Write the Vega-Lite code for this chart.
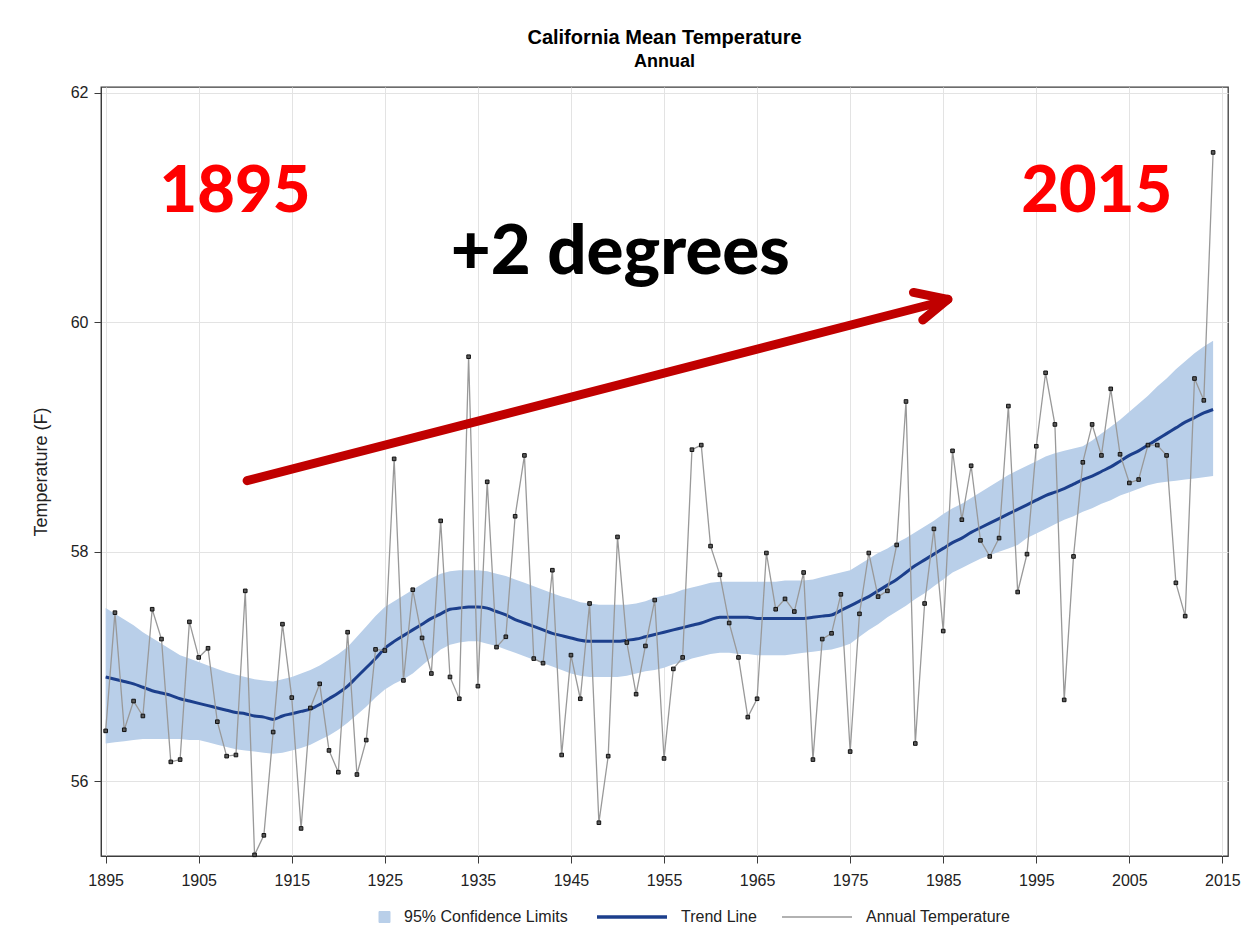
{
  "$schema": "https://vega.github.io/schema/vega-lite/v6.json",
  "autosize": {"type": "none"},
  "width": 1127,
  "height": 769,
  "padding": {"left": 101, "top": 87, "right": 15, "bottom": 87},
  "background": "white",
  "title": {
    "text": "California Mean Temperature",
    "subtitle": "Annual",
    "anchor": "middle",
    "font": "Liberation Sans",
    "subtitleFont": "Liberation Sans",
    "fontSize": 20,
    "subtitleFontSize": 18,
    "fontWeight": "bold",
    "subtitleFontWeight": "bold",
    "color": "#000000",
    "subtitleColor": "#000000",
    "offset": 14,
    "subtitlePadding": 5
  },
  "datasets": {
    "temps": [
      {"year":1895,"t":56.44,"tr":56.91,"lo":56.33,"hi":57.51},
      {"year":1896,"t":57.47,"tr":56.89,"lo":56.34,"hi":57.46},
      {"year":1897,"t":56.45,"tr":56.87,"lo":56.35,"hi":57.41},
      {"year":1898,"t":56.70,"tr":56.85,"lo":56.36,"hi":57.36},
      {"year":1899,"t":56.57,"tr":56.82,"lo":56.37,"hi":57.30},
      {"year":1900,"t":57.50,"tr":56.79,"lo":56.37,"hi":57.25},
      {"year":1901,"t":57.24,"tr":56.77,"lo":56.37,"hi":57.20},
      {"year":1902,"t":56.17,"tr":56.75,"lo":56.37,"hi":57.15},
      {"year":1903,"t":56.19,"tr":56.72,"lo":56.37,"hi":57.10},
      {"year":1904,"t":57.39,"tr":56.70,"lo":56.36,"hi":57.07},
      {"year":1905,"t":57.08,"tr":56.68,"lo":56.36,"hi":57.04},
      {"year":1906,"t":57.16,"tr":56.66,"lo":56.34,"hi":57.01},
      {"year":1907,"t":56.52,"tr":56.64,"lo":56.32,"hi":56.98},
      {"year":1908,"t":56.22,"tr":56.62,"lo":56.30,"hi":56.95},
      {"year":1909,"t":56.23,"tr":56.60,"lo":56.28,"hi":56.93},
      {"year":1910,"t":57.66,"tr":56.59,"lo":56.27,"hi":56.91},
      {"year":1911,"t":55.36,"tr":56.57,"lo":56.26,"hi":56.89},
      {"year":1912,"t":55.53,"tr":56.56,"lo":56.25,"hi":56.88},
      {"year":1913,"t":56.43,"tr":56.54,"lo":56.24,"hi":56.87},
      {"year":1914,"t":57.37,"tr":56.57,"lo":56.25,"hi":56.89},
      {"year":1915,"t":56.73,"tr":56.59,"lo":56.27,"hi":56.91},
      {"year":1916,"t":55.59,"tr":56.61,"lo":56.29,"hi":56.94},
      {"year":1917,"t":56.64,"tr":56.63,"lo":56.32,"hi":56.97},
      {"year":1918,"t":56.85,"tr":56.67,"lo":56.36,"hi":57.01},
      {"year":1919,"t":56.27,"tr":56.72,"lo":56.40,"hi":57.06},
      {"year":1920,"t":56.08,"tr":56.77,"lo":56.45,"hi":57.11},
      {"year":1921,"t":57.30,"tr":56.83,"lo":56.51,"hi":57.17},
      {"year":1922,"t":56.06,"tr":56.91,"lo":56.58,"hi":57.26},
      {"year":1923,"t":56.36,"tr":56.99,"lo":56.65,"hi":57.35},
      {"year":1924,"t":57.15,"tr":57.07,"lo":56.73,"hi":57.44},
      {"year":1925,"t":57.14,"tr":57.16,"lo":56.80,"hi":57.52},
      {"year":1926,"t":58.81,"tr":57.22,"lo":56.85,"hi":57.57},
      {"year":1927,"t":56.88,"tr":57.27,"lo":56.89,"hi":57.62},
      {"year":1928,"t":57.67,"tr":57.32,"lo":56.94,"hi":57.67},
      {"year":1929,"t":57.25,"tr":57.37,"lo":57.01,"hi":57.72},
      {"year":1930,"t":56.94,"tr":57.42,"lo":57.08,"hi":57.77},
      {"year":1931,"t":58.27,"tr":57.46,"lo":57.15,"hi":57.81},
      {"year":1932,"t":56.91,"tr":57.50,"lo":57.19,"hi":57.83},
      {"year":1933,"t":56.72,"tr":57.51,"lo":57.21,"hi":57.84},
      {"year":1934,"t":59.70,"tr":57.52,"lo":57.22,"hi":57.84},
      {"year":1935,"t":56.83,"tr":57.52,"lo":57.22,"hi":57.84},
      {"year":1936,"t":58.61,"tr":57.51,"lo":57.20,"hi":57.83},
      {"year":1937,"t":57.17,"tr":57.48,"lo":57.18,"hi":57.81},
      {"year":1938,"t":57.26,"tr":57.45,"lo":57.15,"hi":57.79},
      {"year":1939,"t":58.31,"tr":57.41,"lo":57.12,"hi":57.76},
      {"year":1940,"t":58.84,"tr":57.38,"lo":57.09,"hi":57.73},
      {"year":1941,"t":57.07,"tr":57.35,"lo":57.06,"hi":57.70},
      {"year":1942,"t":57.03,"tr":57.32,"lo":57.03,"hi":57.67},
      {"year":1943,"t":57.84,"tr":57.29,"lo":57.00,"hi":57.64},
      {"year":1944,"t":56.23,"tr":57.27,"lo":56.97,"hi":57.61},
      {"year":1945,"t":57.10,"tr":57.25,"lo":56.94,"hi":57.59},
      {"year":1946,"t":56.72,"tr":57.23,"lo":56.92,"hi":57.56},
      {"year":1947,"t":57.55,"tr":57.22,"lo":56.91,"hi":57.55},
      {"year":1948,"t":55.64,"tr":57.22,"lo":56.91,"hi":57.54},
      {"year":1949,"t":56.22,"tr":57.22,"lo":56.91,"hi":57.54},
      {"year":1950,"t":58.13,"tr":57.22,"lo":56.91,"hi":57.54},
      {"year":1951,"t":57.21,"tr":57.23,"lo":56.92,"hi":57.54},
      {"year":1952,"t":56.76,"tr":57.24,"lo":56.94,"hi":57.55},
      {"year":1953,"t":57.18,"tr":57.26,"lo":56.96,"hi":57.57},
      {"year":1954,"t":57.58,"tr":57.28,"lo":56.97,"hi":57.60},
      {"year":1955,"t":56.20,"tr":57.30,"lo":56.99,"hi":57.62},
      {"year":1956,"t":56.98,"tr":57.32,"lo":57.02,"hi":57.64},
      {"year":1957,"t":57.08,"tr":57.34,"lo":57.04,"hi":57.67},
      {"year":1958,"t":58.89,"tr":57.36,"lo":57.07,"hi":57.69},
      {"year":1959,"t":58.93,"tr":57.38,"lo":57.09,"hi":57.71},
      {"year":1960,"t":58.05,"tr":57.41,"lo":57.11,"hi":57.73},
      {"year":1961,"t":57.80,"tr":57.43,"lo":57.12,"hi":57.74},
      {"year":1962,"t":57.38,"tr":57.43,"lo":57.12,"hi":57.74},
      {"year":1963,"t":57.08,"tr":57.43,"lo":57.11,"hi":57.74},
      {"year":1964,"t":56.56,"tr":57.43,"lo":57.11,"hi":57.74},
      {"year":1965,"t":56.72,"tr":57.42,"lo":57.10,"hi":57.74},
      {"year":1966,"t":57.99,"tr":57.42,"lo":57.10,"hi":57.74},
      {"year":1967,"t":57.50,"tr":57.42,"lo":57.10,"hi":57.74},
      {"year":1968,"t":57.59,"tr":57.42,"lo":57.10,"hi":57.75},
      {"year":1969,"t":57.48,"tr":57.42,"lo":57.11,"hi":57.75},
      {"year":1970,"t":57.82,"tr":57.42,"lo":57.12,"hi":57.75},
      {"year":1971,"t":56.19,"tr":57.43,"lo":57.13,"hi":57.76},
      {"year":1972,"t":57.24,"tr":57.44,"lo":57.14,"hi":57.78},
      {"year":1973,"t":57.29,"tr":57.45,"lo":57.15,"hi":57.80},
      {"year":1974,"t":57.63,"tr":57.49,"lo":57.17,"hi":57.82},
      {"year":1975,"t":56.26,"tr":57.53,"lo":57.20,"hi":57.84},
      {"year":1976,"t":57.46,"tr":57.57,"lo":57.26,"hi":57.89},
      {"year":1977,"t":57.99,"tr":57.61,"lo":57.32,"hi":57.94},
      {"year":1978,"t":57.61,"tr":57.66,"lo":57.37,"hi":57.99},
      {"year":1979,"t":57.66,"tr":57.71,"lo":57.43,"hi":58.03},
      {"year":1980,"t":58.06,"tr":57.76,"lo":57.48,"hi":58.08},
      {"year":1981,"t":59.31,"tr":57.82,"lo":57.53,"hi":58.12},
      {"year":1982,"t":56.33,"tr":57.88,"lo":57.59,"hi":58.17},
      {"year":1983,"t":57.55,"tr":57.93,"lo":57.64,"hi":58.22},
      {"year":1984,"t":58.20,"tr":57.98,"lo":57.70,"hi":58.27},
      {"year":1985,"t":57.31,"tr":58.03,"lo":57.76,"hi":58.33},
      {"year":1986,"t":58.88,"tr":58.08,"lo":57.82,"hi":58.38},
      {"year":1987,"t":58.28,"tr":58.12,"lo":57.86,"hi":58.42},
      {"year":1988,"t":58.75,"tr":58.17,"lo":57.90,"hi":58.47},
      {"year":1989,"t":58.10,"tr":58.21,"lo":57.94,"hi":58.52},
      {"year":1990,"t":57.96,"tr":58.25,"lo":57.97,"hi":58.57},
      {"year":1991,"t":58.12,"tr":58.29,"lo":58.00,"hi":58.62},
      {"year":1992,"t":59.27,"tr":58.33,"lo":58.03,"hi":58.67},
      {"year":1993,"t":57.65,"tr":58.37,"lo":58.06,"hi":58.71},
      {"year":1994,"t":57.98,"tr":58.41,"lo":58.12,"hi":58.75},
      {"year":1995,"t":58.92,"tr":58.45,"lo":58.16,"hi":58.79},
      {"year":1996,"t":59.56,"tr":58.49,"lo":58.20,"hi":58.83},
      {"year":1997,"t":59.11,"tr":58.52,"lo":58.24,"hi":58.86},
      {"year":1998,"t":56.71,"tr":58.55,"lo":58.28,"hi":58.88},
      {"year":1999,"t":57.96,"tr":58.59,"lo":58.31,"hi":58.90},
      {"year":2000,"t":58.78,"tr":58.63,"lo":58.35,"hi":58.92},
      {"year":2001,"t":59.11,"tr":58.66,"lo":58.38,"hi":58.97},
      {"year":2002,"t":58.84,"tr":58.70,"lo":58.42,"hi":59.03},
      {"year":2003,"t":59.42,"tr":58.74,"lo":58.45,"hi":59.09},
      {"year":2004,"t":58.85,"tr":58.79,"lo":58.49,"hi":59.15},
      {"year":2005,"t":58.60,"tr":58.84,"lo":58.52,"hi":59.22},
      {"year":2006,"t":58.63,"tr":58.88,"lo":58.55,"hi":59.29},
      {"year":2007,"t":58.93,"tr":58.93,"lo":58.58,"hi":59.36},
      {"year":2008,"t":58.93,"tr":58.98,"lo":58.60,"hi":59.44},
      {"year":2009,"t":58.84,"tr":59.03,"lo":58.61,"hi":59.51},
      {"year":2010,"t":57.73,"tr":59.08,"lo":58.62,"hi":59.59},
      {"year":2011,"t":57.44,"tr":59.13,"lo":58.63,"hi":59.66},
      {"year":2012,"t":59.51,"tr":59.17,"lo":58.64,"hi":59.73},
      {"year":2013,"t":59.32,"tr":59.21,"lo":58.65,"hi":59.79},
      {"year":2014,"t":61.48,"tr":59.24,"lo":58.66,"hi":59.84}
    ],
    "arrow": [
      {"year":1910.2,"t":58.62,"year2":1985.3,"t2":60.19},
      {"year":1981.8,"t":60.26,"year2":1985.5,"t2":60.20},
      {"year":1982.8,"t":60.02,"year2":1985.5,"t2":60.20}
    ],
    "notes": [
      {"year":1908.9,"t":60.96,"label":"1895","kind":"year"},
      {"year":2001.5,"t":60.96,"label":"2015","kind":"year"},
      {"year":1950.3,"t":60.42,"label":"+2 degrees","kind":"change"}
    ]
  },
  "encoding": {
    "x": {
      "field": "year",
      "type": "quantitative",
      "title": null,
      "scale": {"domain": [1894.5, 2015.6], "nice": false, "zero": false},
      "axis": {"values": [1895,1905,1915,1925,1935,1945,1955,1965,1975,1985,1995,2005,2015], "format": "d"}
    }
  },
  "layer": [
    {
      "data": {"name": "temps"},
      "mark": {"type": "area", "opacity": 1},
      "encoding": {
        "y": {"field": "lo", "type": "quantitative", "title": "Temperature (F)",
              "scale": {"domain": [55.35, 62.05], "nice": false, "zero": false},
              "axis": {"values": [56, 58, 60, 62], "format": "d"}},
        "y2": {"field": "hi"},
        "color": {
          "datum": "95% Confidence Limits",
          "type": "nominal",
          "scale": {"domain": ["95% Confidence Limits", "Trend Line", "Annual Temperature"],
                    "range": ["#b9cfe9", "#1c3f8c", "#999999"]},
          "legend": {
            "title": null,
            "orient": "bottom",
            "direction": "horizontal",
            "offset": -7,
            "labelFont": "Liberation Sans",
            "labelFontSize": 16,
            "labelColor": "#222222",
            "labelLimit": 400,
            "labelOffset": 13,
            "columnPadding": 22,
            "symbolSize": 4900,
            "symbolType": "stroke",
            "encoding": {
              "symbols": {
                "shape": {"value": {"expr": "(datum.value === '95% Confidence Limits' ? 'M0.686,-0.157H1V0.157H0.686Z' : 'stroke')"}},
                "fill": {"value": {"expr": "(datum.value === '95% Confidence Limits' ? '#b9cfe9' : 'transparent')"}},
                "stroke": {"value": {"expr": "(datum.value === '95% Confidence Limits' ? '#3a4656' : (datum.value === 'Trend Line' ? '#1c3f8c' : '#999999'))"}},
                "strokeWidth": {"value": {"expr": "(datum.value === '95% Confidence Limits' ? 1 : (datum.value === 'Trend Line' ? 3.5 : 1.3))"}},
                "opacity": {"value": 1}
              }
            }
          }
        }
      }
    },
    {
      "data": {"name": "temps"},
      "mark": {"type": "line", "strokeWidth": 3, "interpolate": "monotone"},
      "encoding": {
        "y": {"field": "tr", "type": "quantitative", "title": "Temperature (F)"},
        "color": {"datum": "Trend Line", "type": "nominal"}
      }
    },
    {
      "data": {"name": "temps"},
      "mark": {"type": "line", "strokeWidth": 1.3},
      "encoding": {
        "y": {"field": "t", "type": "quantitative", "title": "Temperature (F)"},
        "color": {"datum": "Annual Temperature", "type": "nominal"}
      }
    },
    {
      "data": {"name": "temps"},
      "mark": {"type": "point", "shape": "square", "size": 13, "filled": true, "fill": "#5a5a5a", "stroke": "#111111", "strokeWidth": 1, "opacity": 1},
      "encoding": {
        "y": {"field": "t", "type": "quantitative", "title": "Temperature (F)"}
      }
    },
    {
      "data": {"name": "arrow"},
      "mark": {"type": "rule", "color": "#c00000", "strokeWidth": 9, "strokeCap": "round"},
      "encoding": {
        "y": {"field": "t", "type": "quantitative", "title": "Temperature (F)"},
        "x2": {"field": "year2"},
        "y2": {"field": "t2"}
      }
    },
    {
      "data": {"name": "notes"},
      "transform": [{"filter": "datum.kind === 'year'"}],
      "mark": {"type": "text", "font": "Lato", "fontWeight": 900, "fontSize": 65, "color": "#ff0000", "align": "center", "baseline": "alphabetic"},
      "encoding": {
        "y": {"field": "t", "type": "quantitative", "title": "Temperature (F)"},
        "text": {"field": "label"}
      }
    },
    {
      "data": {"name": "notes"},
      "transform": [{"filter": "datum.kind === 'change'"}],
      "mark": {"type": "text", "font": "Lato", "fontWeight": 900, "fontSize": 69, "color": "#000000", "align": "center", "baseline": "alphabetic"},
      "encoding": {
        "y": {"field": "t", "type": "quantitative", "title": "Temperature (F)"},
        "text": {"field": "label"}
      }
    }
  ],
  "config": {
    "view": {"stroke": "#3c3c3c", "strokeWidth": 1.3},
    "axis": {
      "labelFont": "Liberation Sans",
      "titleFont": "Liberation Sans",
      "labelColor": "#222222",
      "titleColor": "#222222",
      "domainColor": "#3c3c3c",
      "tickColor": "#3c3c3c",
      "gridColor": "#e3e3e3",
      "grid": true,
      "tickSize": 7,
      "labelFontSize": 16
    },
    "axisX": {"labelPadding": 9},
    "axisY": {"labelPadding": 6, "titleFontSize": 18, "titleFontWeight": "normal", "titlePadding": 20},
    "legend": {"layout": {"bottom": {"anchor": "middle"}}}
  }
}
